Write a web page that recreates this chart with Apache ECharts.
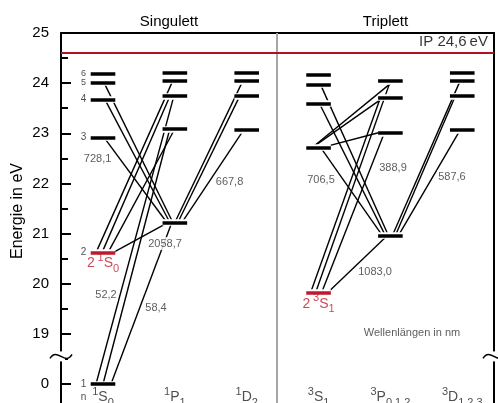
<!DOCTYPE html>
<html><head><meta charset="utf-8">
<script src="https://cdn.jsdelivr.net/npm/echarts@6/dist/echarts.min.js"></script>
<style>html,body{margin:0;padding:0;background:#fff}#c{width:498px;height:403px}</style>
</head><body><div id="c"></div>
<script>
// ---------------- data ----------------
const groupTitles = ['Singulett', 'Triplett'];
// term symbols per column: [multiplicity, L letter, J]
const columnTerms = [['1','S','0'], ['1','P','1'], ['1','D','2'], ['3','S','1'], ['3','P','0,1,2'], ['3','D','1,2,3']];
const levelFirstN = [1, 2, 3, 2, 2, 3];
const singletS = [0.00, 20.62, 22.92, 23.67, 24.01, 24.19];   // n = 1..6
const singletP = [21.22, 23.09, 23.74, 24.05, 24.21];         // n = 2..6
const singletD = [23.07, 23.74, 24.04, 24.21];                // n = 3..6
const tripletS = [19.82, 22.72, 23.59, 23.97, 24.17];         // n = 2..6
const tripletP = [20.96, 23.01, 23.71, 24.04];                // n = 2..5
const tripletD = [23.07, 23.74, 24.05, 24.21];                // n = 3..6
const ionizationEnergy = 24.6;
const ionizationLabel = 'IP 24,6\u2009eV';
const highlightedLevels = [[0, 2], [3, 2]];                   // 2¹S0, 2³S1
const levelNumbers = ['1', '2', '3', '4', '5', '6'];
// transitions: [fromColumn, fromN, toColumn, toN]
const transitions = [
  [0,1,1,4],[0,1,1,3],[0,1,1,2],
  [0,2,1,5],[0,2,1,4],[0,2,1,3],[0,2,1,2],
  [0,3,1,2],[0,4,1,2],[0,5,1,2],
  [2,3,1,2],[2,4,1,2],[2,5,1,2],
  [3,2,4,5],[3,2,4,4],[3,2,4,3],[3,2,4,2],
  [3,3,4,5],[3,3,4,4],[3,3,4,3],[3,3,4,2],
  [3,4,4,2],[3,5,4,2],
  [5,3,4,2],[5,4,4,2],[5,5,4,2]
];
const wavelengthLabels = ['728,1','667,8','2058,7','52,2','58,4','706,5','388,9','587,6','1083,0'];
const wavelengthNote = 'Wellenlängen in nm';
const yAxisTitle = 'Energie in eV';
const yTickValues = [18, 19, 20, 21, 22, 23, 24, 25];
const yTickLabels = ['0', '19', '20', '21', '22', '23', '24', '25'];
const yMinorTickValues = [18.5, 19.5, 20.5, 21.5, 22.5, 23.5, 24.5];

// ---------------- layout ----------------
const FONT = '"Liberation Sans", Arial, sans-serif';
const BREAK = 18;                       // axis value where energy 0 is drawn
const toAxis = e => e < 10 ? e + BREAK : e;
const X_MIN = -0.5846, X_MAX = 5.4419;
const Y_MIN = 17.621, Y_MAX = 25;
const PX = 1 / 71.85;                   // x-axis units per pixel
const BAR_HALF = 12.3 * PX;
const DIVIDER_X = 2.4217;
const RED = '#bf1a2c';
// endpoint offsets (px) inside the level bars for each transition
const transitionAnchors = [
  [-7,-1],[0,-5],[8,-3],
  [-7,-2],[-1,-5],[5,0],[10,-7],
  [1,-8],[2,-5],[1,-2],
  [-3,7],[-7,3],[-4,0],
  [-3,0],[-8,-10],[3,-6],[9,-3],
  [-6,3],[-6,-7],[4,-12],[2,-8],
  [1,-5],[2,-2],
  [-2,8],[-7,5],[-2,2]
];
const wavelengthAnchors = [[-0.075,22.487],[1.761,22.038],[0.863,20.802],[0.042,19.775],[0.738,19.525],
  [3.034,22.078],[4.036,22.308],[4.857,22.138],[3.786,20.233]];
const notePos = [4.301, 19.017];
const levelNumberX = -0.272;
const termRowY = 17.74;

const levels = [singletS, singletP, singletD, tripletS, tripletP, tripletD];
const energyOf = (c, n) => levels[c][n - levelFirstN[c]];
const isHighlighted = (c, n) => highlightedLevels.some(h => h[0] === c && h[1] === n);

const transitionData = transitions.map((t, i) => ({
  coords: [[t[0] + transitionAnchors[i][0] * PX, toAxis(energyOf(t[0], t[1]))],
           [t[2] + transitionAnchors[i][1] * PX, toAxis(energyOf(t[2], t[3]))]]
}));
const barData = [], haloData = [];
levels.forEach((lv, c) => lv.forEach((e, k) => {
  const n = k + levelFirstN[c];
  const coords = [[c - BAR_HALF, toAxis(e)], [c + BAR_HALF, toAxis(e)]];
  haloData.push({coords});
  barData.push({coords, lineStyle: {color: isHighlighted(c, n) ? RED : '#000'}});
}));

const rich = (color, main, sup, sub) => ({
  main: {fontSize: main, lineHeight: 22, color, fontFamily: FONT},
  sup: {fontSize: sup, lineHeight: 12, verticalAlign: 'top', color, fontFamily: FONT},
  sub: {fontSize: sub, lineHeight: 12, verticalAlign: 'bottom', color, fontFamily: FONT}
});
const texts = [];
const addText = (x, y, label) => texts.push({value: [x, y], label: Object.assign({show: true, position: 'inside', fontFamily: FONT}, label)});
columnTerms.forEach((t, c) => addText(c, termRowY, {
  formatter: `{sup|${t[0]}}{main|${t[1]}}{sub|${t[2]}}`, rich: rich('#222', 14, 11, 11)
}));
highlightedLevels.forEach(([c, n]) => {
  const t = columnTerms[c];
  addText(c, toAxis(energyOf(c, n)), {
    formatter: `{main|${n}\u2009}{sup|${t[0]}}{main|${t[1]}}{sub|${t[2]}}`,
    rich: rich(RED, 14, 11, 11), offset: [0, 11]
  });
});
singletS.forEach((e, k) => addText(levelNumberX, toAxis(e), {
  formatter: levelNumbers[k], fontSize: k >= 4 ? 9 : 10, color: '#222'
}));
addText(levelNumberX, termRowY, {formatter: 'n', fontSize: 10, color: '#222'});
wavelengthLabels.forEach((w, i) => addText(wavelengthAnchors[i][0], wavelengthAnchors[i][1],
  {formatter: w, fontSize: 11, color: '#333', backgroundColor: '#fff', padding: [1, 1]}));
addText(notePos[0], notePos[1], {formatter: wavelengthNote, fontSize: 11, color: '#333'});
addText(5.358, 24.82, {formatter: ionizationLabel, fontSize: 15, color: '#000', align: 'right'});

const option = {
  animation: false,
  grid: {left: 61, right: 4, top: 33, bottom: 0, containLabel: false},
  xAxis: {type: 'value', min: X_MIN, max: X_MAX, position: 'top',
    axisLine: {show: true, onZero: false, lineStyle: {color: '#000', width: 2}},
    axisTick: {show: false}, axisLabel: {show: false}, splitLine: {show: false}},
  yAxis: [
    {type: 'value', min: Y_MIN, max: Y_MAX, position: 'left',
      axisLine: {show: true, onZero: false, lineStyle: {color: '#000', width: 2}},
      axisTick: {show: true, inside: true, length: 10, customValues: yTickValues, lineStyle: {color: '#000', width: 2}},
      axisLabel: {margin: 12, fontSize: 15, color: '#000', fontFamily: FONT, customValues: yTickValues,
        formatter: v => { const i = yTickValues.indexOf(v); return i < 0 ? '' : yTickLabels[i]; }},
      splitLine: {show: false}},
    {type: 'value', min: Y_MIN, max: Y_MAX, position: 'right',
      axisLine: {show: true, onZero: false, lineStyle: {color: '#000', width: 2}},
      axisTick: {show: false}, axisLabel: {show: false}, splitLine: {show: false}},
    {type: 'value', min: Y_MIN, max: Y_MAX, position: 'left',
      axisLine: {show: false, onZero: false},
      axisTick: {show: true, inside: true, length: 7, customValues: yMinorTickValues, lineStyle: {color: '#000', width: 2}},
      axisLabel: {show: false}, splitLine: {show: false}}
  ],
  series: [
    {type: 'lines', coordinateSystem: 'cartesian2d', z: 1, silent: true,
      lineStyle: {color: '#a6a6a6', width: 2, opacity: 1},
      data: [{coords: [[DIVIDER_X, Y_MIN], [DIVIDER_X, Y_MAX]]}]},
    {type: 'lines', coordinateSystem: 'cartesian2d', z: 2, silent: true,
      lineStyle: {color: '#000', width: 1.4, opacity: 1}, data: transitionData},
    {type: 'lines', coordinateSystem: 'cartesian2d', z: 3, silent: true,
      lineStyle: {color: '#fff', width: 6.5, opacity: 1}, data: haloData},
    {type: 'lines', coordinateSystem: 'cartesian2d', z: 4, silent: true,
      lineStyle: {width: 3.5, opacity: 1}, data: barData},
    {type: 'lines', coordinateSystem: 'cartesian2d', z: 5, silent: true,
      lineStyle: {color: '#b0121f', width: 2, opacity: 1},
      data: [{coords: [[X_MIN, ionizationEnergy], [X_MAX, ionizationEnergy]]}]},
    {type: 'scatter', z: 6, silent: true, symbolSize: 0, clip: false, data: texts}
  ]
};
const chart = echarts.init(document.getElementById('c'));
chart.setOption(option);

const toPx = (x, y) => chart.convertToPixel({gridIndex: 0}, [x, y]);
const breakSym = (x0, y0) => [
  {type: 'rect', z: 100, shape: {x: x0 - 4, y: y0 - 5, width: 8, height: 10}, style: {fill: '#fff'}},
  {type: 'bezierCurve', z: 101, shape: {x1: x0 - 11, y1: y0 + 2, cpx1: x0 - 4, cpy1: y0 - 10, cpx2: x0 + 4, cpy2: y0 + 10, x2: x0 + 11, y2: y0 - 2},
    style: {stroke: '#000', lineWidth: 1.5, fill: null}}
];
const pL = toPx(X_MIN, 18.55), pR = toPx(X_MAX, 18.55);
const t1 = toPx((X_MIN + DIVIDER_X) / 2, Y_MAX), t2 = toPx((DIVIDER_X + X_MAX) / 2, Y_MAX);
chart.setOption({graphic: [
  {type: 'text', x: t1[0], y: t1[1] - 11, z: 100, style: {text: groupTitles[0], fontSize: 15, fontFamily: FONT, fill: '#000', align: 'center', verticalAlign: 'middle'}},
  {type: 'text', x: t2[0], y: t2[1] - 11, z: 100, style: {text: groupTitles[1], fontSize: 15, fontFamily: FONT, fill: '#000', align: 'center', verticalAlign: 'middle'}},
  {type: 'text', x: 18, y: 211, rotation: Math.PI / 2, z: 100, style: {text: yAxisTitle, fontSize: 16, fontFamily: FONT, fill: '#000', align: 'center', verticalAlign: 'middle'}},
  ...breakSym(pL[0], pL[1]),
  ...breakSym(pR[0], pR[1])
]});
</script></body></html>
